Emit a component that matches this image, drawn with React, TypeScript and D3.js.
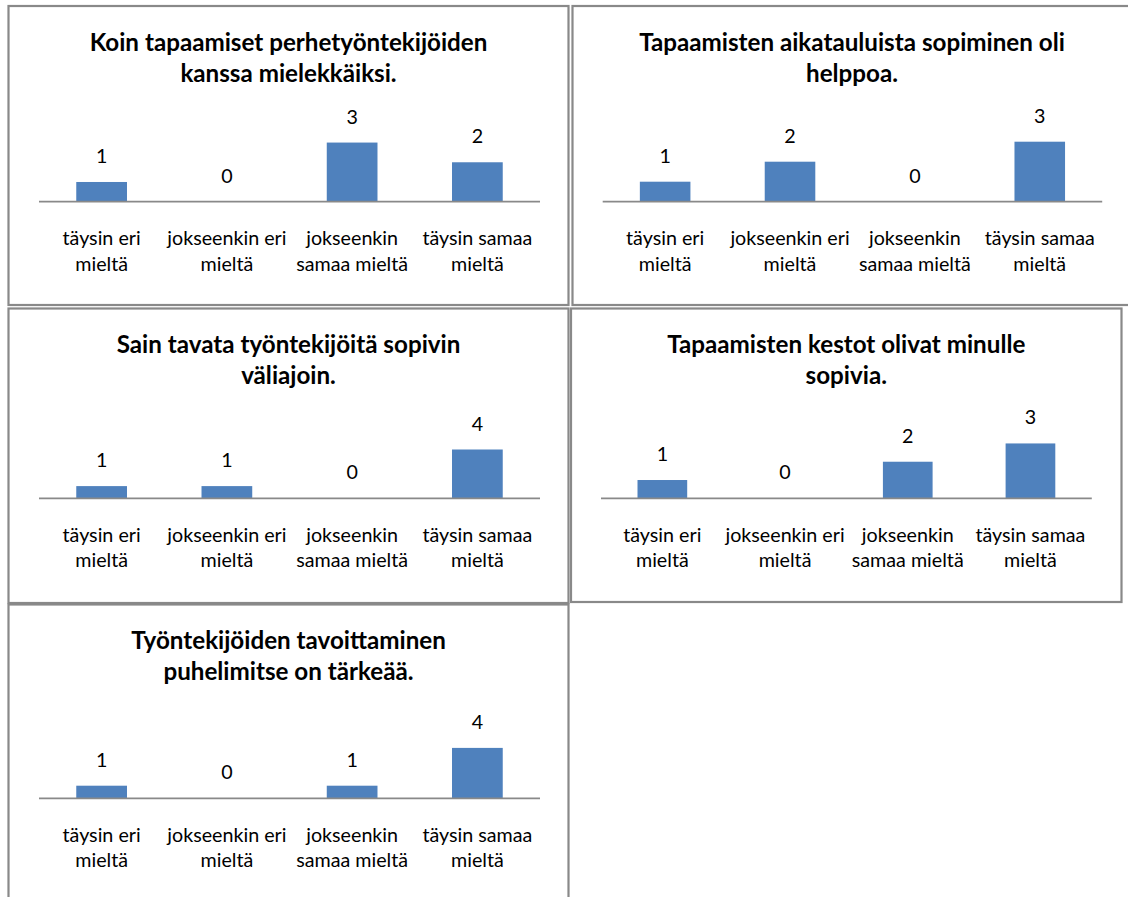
import React from "react";
import * as d3 from "d3";

const categories = [
  "täysin eri mieltä",
  "jokseenkin eri mieltä",
  "jokseenkin samaa mieltä",
  "täysin samaa mieltä",
];
const categoryLines = [
  ["täysin eri", "mieltä"],
  ["jokseenkin eri", "mieltä"],
  ["jokseenkin", "samaa mieltä"],
  ["täysin samaa", "mieltä"],
];

const title1 = ["Koin tapaamiset perhetyöntekijöiden", "kanssa mielekkäiksi."];
const title2 = ["Tapaamisten aikatauluista sopiminen oli", "helppoa."];
const title3 = ["Sain tavata työntekijöitä sopivin", "väliajoin."];
const title4 = ["Tapaamisten kestot olivat minulle", "sopivia."];
const title5 = ["Työntekijöiden tavoittaminen", "puhelimitse on tärkeää."];

const values1 = [1, 0, 3, 2];
const values2 = [1, 2, 0, 3];
const values3 = [1, 1, 0, 4];
const values4 = [1, 0, 2, 3];
const values5 = [1, 0, 1, 4];

const FONT = "Lato, 'Open Sans', sans-serif";
const BAR = "#4F81BD";
const GRAY = "#898989";

type PanelProps = {
  x: number; y: number; w: number; h: number;
  axisY: number; ax0: number; ax1: number;
  axisMax: number; plotH: number;
  title: string[]; values: number[];
};

function Panel(p: PanelProps) {
  const xs = d3.scaleBand<string>().domain(categories).range([p.ax0, p.ax1])
    .paddingInner(0.595).paddingOuter(0.2975);
  const ys = d3.scaleLinear().domain([0, p.axisMax]).range([p.axisY, p.axisY - p.plotH]);
  const cx = p.w / 2;
  return (
    <g transform={`translate(${p.x},${p.y})`}>
      <rect x={0} y={0} width={p.w} height={p.h} fill="#fff" stroke={GRAY} strokeWidth={2.2} />
      <text fontFamily={FONT} fontWeight="bold" fontSize={24.2} textAnchor="middle" fill="#000">
        {p.title.map((t, i) => (
          <tspan key={i} x={cx} y={44.8 + i * 31}>{t}</tspan>
        ))}
      </text>
      {p.values.map((v, i) => {
        const c = categories[i];
        const bx = xs(c) as number;
        const top = ys(v);
        return (
          <g key={i}>
            {v > 0 && (
              <rect x={bx} y={top} width={xs.bandwidth()} height={ys(0) - top} fill={BAR} />
            )}
            <text x={bx + xs.bandwidth() / 2} y={top - 19} textAnchor="middle"
              fontFamily={FONT} fontSize={19.7} fill="#000">{v}</text>
            <text fontFamily={FONT} fontSize={19.7} textAnchor="middle" fill="#000">
              {categoryLines[i].map((t, j) => (
                <tspan key={j} x={bx + xs.bandwidth() / 2} y={p.axisY + 43.5 + j * 25.5}>{t}</tspan>
              ))}
            </text>
          </g>
        );
      })}
      <line x1={p.ax0} x2={p.ax1} y1={p.axisY} y2={p.axisY} stroke={GRAY} strokeWidth={1.8} />
    </g>
  );
}

export default function App() {
  return (
    <svg width={1128} height={897} style={{ position: "absolute", left: 0, top: 0, background: "#fff" }}>
      <rect x={0} y={0} width={1128} height={897} fill="#fff" />
      <Panel x={8.5} y={6} w={560} h={299} axisY={195.7} ax0={30.5} ax1={531.5}
        axisMax={3.5} plotH={69} title={title1} values={values1} />
      <Panel x={572.5} y={6} w={559} h={299} axisY={195.7} ax0={30.2} ax1={529.7}
        axisMax={3.5} plotH={70} title={title2} values={values2} />
      <Panel x={8.5} y={308.5} w={560} h={294.5} axisY={189.8} ax0={30.5} ax1={531.5}
        axisMax={5} plotH={61} title={title3} values={values3} />
      <Panel x={571} y={308.5} w={550.5} h={293.5} axisY={189.8} ax0={30} ax1={520.8}
        axisMax={3.5} plotH={64} title={title4} values={values4} />
      <Panel x={8.5} y={604.5} w={560} h={400} axisY={193.8} ax0={30.5} ax1={531.5}
        axisMax={5} plotH={63} title={title5} values={values5} />
    </svg>
  );
}
